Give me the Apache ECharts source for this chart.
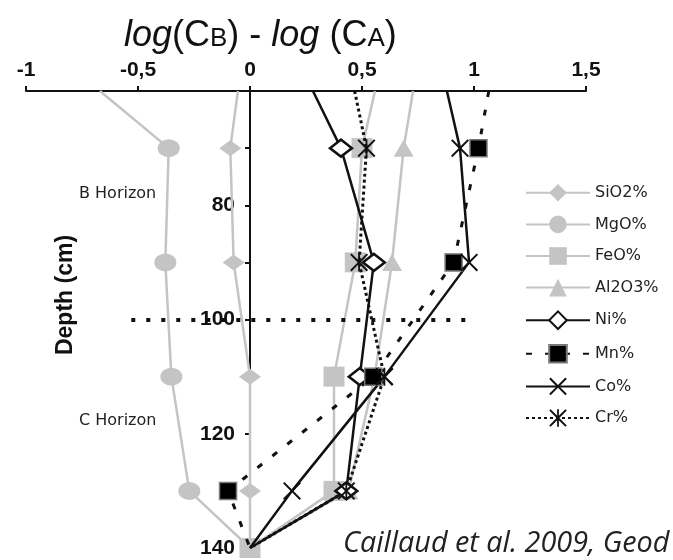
<!DOCTYPE html>
<html>
<head>
<meta charset="utf-8">
<script src="https://cdn.jsdelivr.net/npm/echarts@6/dist/echarts.min.js"></script>
<style>
html,body{margin:0;padding:0;background:#fff}
#chart{width:673px;height:560px}
</style>
</head>
<body>
<div id="chart"></div>
<script>
// 深度 (cm)，第一个点就是图顶端
var depths = [60, 70, 90, 110, 130, 140];
// log(CB) - log(CA)
var sio2  = [-0.054, -0.088, -0.073, 0.0, 0.0, 0];
var mgo   = [-0.67, -0.363, -0.378, -0.351, -0.271, 0];
var feo   = [0.558, 0.50, 0.47, 0.375, 0.375, 0];
var al2o3 = [0.728, 0.686, 0.634, 0.556, 0.44, 0];
var ni    = [0.281, 0.406, 0.553, 0.49, 0.43, 0];
var mn    = [1.066, 1.02, 0.909, 0.55, -0.098, 0];
var co    = [0.879, 0.9375, 0.978, 0.6, 0.1875, 0];
var cr    = [0.467, 0.52, 0.487, 0.6, 0.43, 0];
// 刻度
var yLabelVals = [80, 100, 120, 140];
var yTickVals = [70, 80, 90, 100, 110, 120, 130, 140];
// B/C 层分界虚线
var boundaryDepth = 100;
var boundaryFrom = -0.53;
var boundaryTo = 0.97;

var GRAY = '#c4c4c4';
var BLACK = '#111';
var xPath = 'path://M0,8L8,0L50,42L92,0L100,8L58,50L100,92L92,100L50,58L8,100L0,92L42,50Z';
var starPath = xPath + 'M45,0L55,0L55,100L45,100Z';

function makeSeries(name, arr, opt) {
	var data = arr.map(function(v, i) {
		var item = { value: [v, depths[i]] };
		// 顶端的点和140处的点不画符号（FeO除外）
		if (i === 0 || (i === arr.length - 1 && !opt.endSymbol)) item.symbol = 'none';
		return item;
	});
	return {
		name: name,
		type: 'line',
		data: data,
		symbol: opt.symbol,
		symbolSize: opt.size,
		showAllSymbol: true,
		clip: true,
		lineStyle: { color: opt.color, width: opt.width || 2.5, type: opt.type || 'solid' },
		itemStyle: opt.itemStyle,
		z: opt.z || 2
	};
}

var series = [
	makeSeries('SiO2%', sio2, { symbol: 'diamond', size: [22, 16], color: GRAY, itemStyle: { color: GRAY } }),
	makeSeries('MgO%', mgo, { symbol: 'circle', size: [22, 18], color: GRAY, itemStyle: { color: GRAY } }),
	makeSeries('FeO%', feo, { symbol: 'rect', size: [21, 20], color: GRAY, itemStyle: { color: GRAY }, endSymbol: true }),
	makeSeries('Al2O3%', al2o3, { symbol: 'triangle', size: [20, 17], color: GRAY, itemStyle: { color: GRAY } }),
	makeSeries('Ni%', ni, { symbol: 'diamond', size: [22, 17], color: BLACK, z: 3,
		itemStyle: { color: '#fff', borderColor: BLACK, borderWidth: 2.5 } }),
	makeSeries('Mn%', mn, { symbol: 'rect', size: 17, color: BLACK, type: [6, 13], width: 3, z: 3,
		itemStyle: { color: '#000', borderColor: '#777', borderWidth: 1.5 } }),
	makeSeries('Co%', co, { symbol: xPath, size: 18, color: BLACK, z: 3, itemStyle: { color: BLACK } }),
	makeSeries('Cr%', cr, { symbol: starPath, size: 18, color: BLACK, type: [3, 3], width: 3, z: 3, itemStyle: { color: BLACK } })
];

// 分界线挂在第一个系列上
series[0].markLine = {
	silent: true,
	symbol: 'none',
	label: { show: false },
	lineStyle: { color: '#111', width: 4, type: [4, 11] },
	data: [[{ coord: [boundaryFrom, boundaryDepth] }, { coord: [boundaryTo, boundaryDepth] }]]
};

var option = {
	animation: false,
	backgroundColor: '#fff',
	title: {
		text: '{i|log}{n|(C}{s|B}{n|) - }{i|log}{n| (C}{s|A}{n|)}',
		left: 119,
		top: 13,
		textStyle: {
			fontWeight: 'normal',
			rich: {
				i: { fontFamily: 'Liberation Sans', fontStyle: 'italic', fontWeight: 'normal', fontSize: 36, color: '#111', verticalAlign: 'bottom' },
				n: { fontFamily: 'Liberation Sans', fontWeight: 'normal', fontSize: 36, color: '#111', verticalAlign: 'bottom' },
				s: { fontFamily: 'Liberation Sans', fontWeight: 'normal', fontSize: 26, color: '#111', verticalAlign: 'bottom', padding: [0, 0, 2, 0] }
			}
		}
	},
	legend: {
		orient: 'vertical',
		left: 520,
		top: 179,
		itemWidth: 64,
		itemHeight: 22,
		itemGap: 14,
		selectedMode: false,
		textStyle: { fontFamily: 'DejaVu Sans', fontSize: 16, color: '#222' },
		data: ['SiO2%', 'MgO%', 'FeO%', 'Al2O3%', 'Ni%', 'Mn%', 'Co%', 'Cr%']
	},
	grid: {
		left: 26,
		right: 87,
		top: 91,
		bottom: 12,
		outerBoundsMode: 'none'
	},
	xAxis: {
		type: 'value',
		position: 'top',
		min: -1,
		max: 1.5,
		interval: 0.5,
		axisLine: { show: true, onZero: false, lineStyle: { color: BLACK, width: 2 } },
		axisTick: { show: true, length: 5, lineStyle: { color: BLACK, width: 2 } },
		axisLabel: {
			fontFamily: 'Liberation Sans', fontWeight: 'bold', fontSize: 21, color: '#111', margin: 10,
			formatter: function(v) { return String(v).replace('.', ','); }
		},
		splitLine: { show: false }
	},
	yAxis: {
		type: 'value',
		inverse: true,
		min: 60,
		max: 140,
		position: 'left',
		// 把y轴从网格左边移到 x=0 处
		offset: -224,
		axisLine: { show: true, onZero: false, lineStyle: { color: BLACK, width: 2 } },
		axisTick: { show: true, length: 5, customValues: yTickVals, lineStyle: { color: BLACK, width: 2 } },
		axisLabel: {
			customValues: yLabelVals,
			fontFamily: 'Liberation Sans', fontWeight: 'bold', fontSize: 21, color: '#111', margin: 15
		},
		splitLine: { show: false }
	},
	graphic: [
		{ type: 'text', x: 66, y: 295, rotation: Math.PI / 2,
			style: { text: 'Depth (cm)', fontFamily: 'Liberation Sans', fontWeight: 'bold', fontSize: 23, fill: '#111', align: 'center', verticalAlign: 'middle' } },
		{ type: 'text', x: 79, y: 194,
			style: { text: 'B Horizon', fontFamily: 'DejaVu Sans', fontSize: 16, fill: '#222', verticalAlign: 'middle' } },
		{ type: 'text', x: 79, y: 421,
			style: { text: 'C Horizon', fontFamily: 'DejaVu Sans', fontSize: 16, fill: '#222', verticalAlign: 'middle' } },
		{ type: 'text', x: 343, y: 544,
			style: { text: 'Caillaud et al. 2009, Geod', fontFamily: 'Open Sans', fontStyle: 'italic', fontSize: 28.8, fill: '#222', verticalAlign: 'middle' } }
	],
	series: series
};

var chart = echarts.init(document.getElementById('chart'));
chart.setOption(option);
</script>
</body>
</html>
